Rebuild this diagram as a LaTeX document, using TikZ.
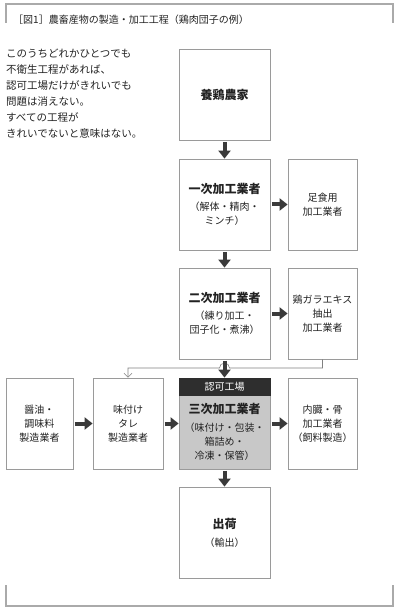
\documentclass[tikz,border=0pt]{standalone}
\usepackage{fontspec}
\setmainfont{Noto Sans CJK JP}
\usepackage[]{xcolor}
\usetikzlibrary{arrows.meta}
\definecolor{boxgray}{HTML}{9A9A9A}
\definecolor{fillgray}{HTML}{C8C8C8}
\definecolor{darkhd}{HTML}{2E2E2E}
\definecolor{arrgray}{HTML}{3A3A3A}
\definecolor{framegray}{HTML}{AAAAAA}
\definecolor{txtgray}{HTML}{222222}
\newcommand{\ttl}[1]{{\bfseries\fontsize{12}{14}\selectfont #1}}

\begin{document}
\begin{tikzpicture}[x=1pt,y=-1pt,
    box/.style={draw=boxgray, line width=.8pt, fill=white, minimum width=91pt,
      minimum height=91pt, inner sep=0pt, align=center, text=txtgray,
      font=\fontsize{10}{14}\selectfont},
    sidebox/.style={box, minimum width=69pt},
    arr/.style={draw=arrgray, line width=4pt, -{Triangle[width=12pt,length=8pt]},
      shorten <=1.5pt},
    thinline/.style={draw=gray, line width=.6pt}]
    \useasboundingbox (0,0) rectangle (400,612);
    % frame
    \draw[framegray, line width=1.2pt] (6,23) -- (6,4) -- (393,4) -- (393,23);
    \draw[framegray, line width=1.2pt] (6,585) -- (6,606) -- (393,606) -- (393,585);
    \node[anchor=west, inner sep=0pt, text=txtgray, font=\fontsize{10}{12}\selectfont] (title)
        at (13,20) {［図1］農畜産物の製造・加工工程（鶏肉団子の例）};
    \node[anchor=north west, inner sep=0pt, align=left, text=txtgray,
        font=\fontsize{10.5}{16}\selectfont] (note) at (6,49)
        {このうちどれかひとつでも\\不衛生工程があれば、\\認可工場だけがきれいでも\\問題は消えない。\\すべての工程が\\きれいでないと意味はない。};
    % main column
    \node[box] (youkei) at (224.5,94.5) {\ttl{養鶏農家}};
    \node[box] (ichiji) at (224.5,204.5) {\ttl{一次加工業者}\\[3pt]（解体・精肉・\\ミンチ）};
    \node[box] (niji)   at (224.5,313.5) {\ttl{二次加工業者}\\[3pt]（練り加工・\\団子化・煮沸）};
    \node[box, fill=fillgray] (sanji) at (224.5,423.5) {};
    \node[draw=darkhd, fill=darkhd, text=white, minimum width=91pt, minimum height=17pt,
        inner sep=0pt, anchor=north, font=\fontsize{10}{12}\selectfont] (nintei)
        at (sanji.north) {認可工場};
    \node[align=center, inner sep=0pt, text=txtgray, font=\fontsize{10}{14}\selectfont] (sanjitxt)
        at ([yshift=-8.5pt]sanji.center) {\ttl{三次加工業者}\\[4pt]（味付け・包装・\\箱詰め・\\冷凍・保管）};
    \node[box] (shukka) at (224.5,532.5) {\ttl{出荷}\\[4pt]（輸出）};
    % side boxes
    \node[sidebox] (ashi)  at (322.5,204.5) {足食用\\加工業者};
    \node[sidebox] (tori)  at (322.5,313.5) {鶏ガラエキス\\抽出\\加工業者};
    \node[sidebox] (naizo) at (322.5,423.5) {内臓・骨\\加工業者\\（飼料製造）};
    \node[box, minimum width=70pt] (tare)  at (128,423.5) {味付け\\タレ\\製造業者};
    \node[box, minimum width=67pt] (shoyu) at (39.5,423.5) {醤油・\\調味料\\製造業者};
    % thin return line
    \coordinate (hop) at (niji.south |- 0,368);
    \draw[thinline, -{Straight Barb[length=4pt,width=8pt]}] (tori.south) |- ([xshift=5pt]hop)
        arc[start angle=0, end angle=180, radius=5pt] -| (tare.north);
    % arrows
    \draw[arr] (youkei) -- (ichiji);
    \draw[arr] (ichiji) -- (ashi);
    \draw[arr] (ichiji) -- (niji);
    \draw[arr] (niji) -- (tori);
    \draw[arr] (niji) -- (nintei);
    \draw[arr] (shoyu) -- (tare);
    \draw[arr] (tare) -- (sanji);
    \draw[arr] (sanji) -- (naizo);
    \draw[arr] (sanji) -- (shukka);
\end{tikzpicture}
\end{document}
